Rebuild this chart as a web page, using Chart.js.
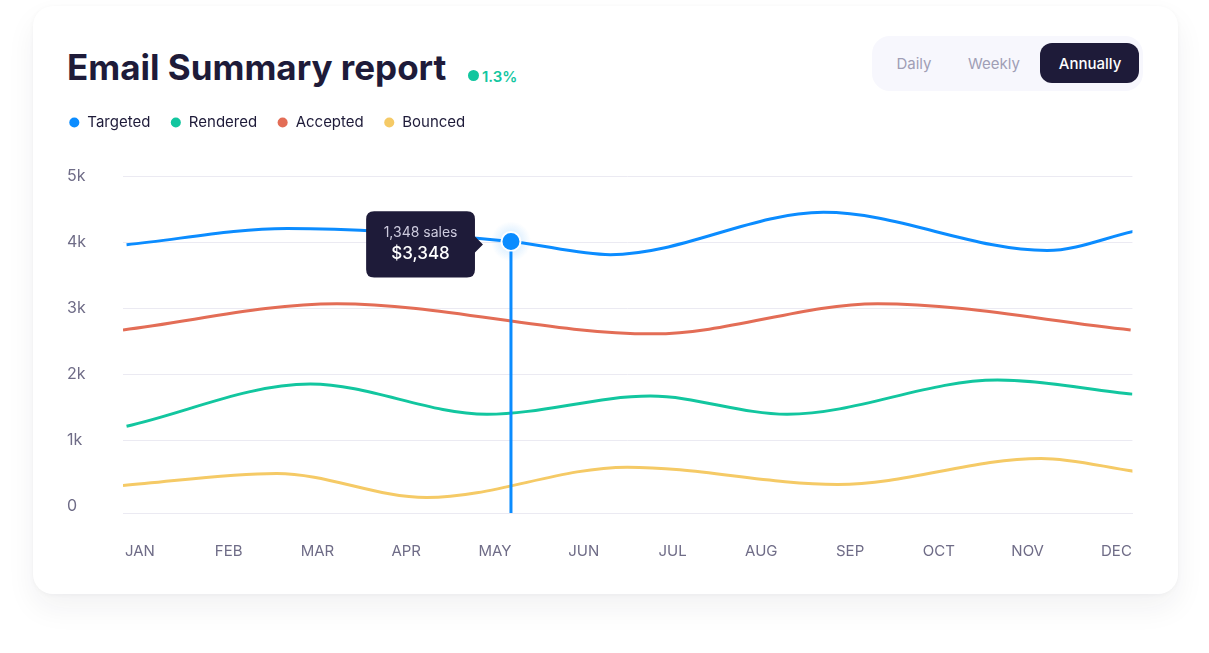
<!DOCTYPE html>
<html>
<head>
<meta charset="utf-8">
<script src="https://cdn.jsdelivr.net/npm/chart.js@4.4.1/dist/chart.umd.min.js"></script>
<style>
html,body{margin:0;padding:0;background:#fff;width:1209px;height:653px;overflow:hidden;font-family:Inter,sans-serif;}
.card{position:absolute;left:33px;top:6px;width:1145px;height:588px;background:#fff;border-radius:20px;box-shadow:0 14px 30px rgba(30,27,57,0.06),0 1px 5px rgba(30,27,57,0.04);}
.title{position:absolute;left:67px;top:50px;font-size:35px;line-height:35px;font-weight:700;color:#1e1b39;white-space:nowrap;}
.badge-dot{position:absolute;left:467.5px;top:70px;width:11px;height:11px;border-radius:50%;background:#12c69f;}
.badge{position:absolute;left:482px;top:69px;font-size:15px;line-height:15px;font-weight:600;color:#12c69f;white-space:nowrap;}
.seg{position:absolute;left:872px;top:36px;width:271px;height:55px;border-radius:18px;background:#f7f7fd;}
.seg-active{position:absolute;left:1040px;top:43px;width:99px;height:40px;border-radius:12px;background:#1e1b39;}
.seg-btn{position:absolute;top:56px;font-size:15px;line-height:15px;color:#a09eb5;transform:translateX(-50%);white-space:nowrap;}
.seg-btn.on{color:#fff;font-weight:500;}
#wrap{position:absolute;left:40px;top:88px;width:1121px;height:501px;}
</style>
</head>
<body>
<div class="card"></div>
<div class="title">Email Summary report</div>
<div class="badge-dot"></div>
<div class="badge">1.3%</div>
<div class="seg"></div>
<div class="seg-active"></div>
<div class="seg-btn" style="left:914px">Daily</div>
<div class="seg-btn" style="left:994px">Weekly</div>
<div class="seg-btn on" style="left:1090px">Annually</div>
<div id="wrap"><canvas id="c"></canvas></div>
<script>
// ---- data ----
const months = ['JAN','FEB','MAR','APR','MAY','JUN','JUL','AUG','SEP','OCT','NOV','DEC'];
const yTickValues = [0, 1000, 2000, 3000, 4000, 5000];

const targetedX = [-0.15, 1.66, 4.18, 5.30, 7.70, 10.22, 11.19];
const targetedY = [3960, 4205, 4010, 3810, 4450, 3872, 4161];

const renderedX = [-0.15, 1.92, 3.91, 5.75, 7.29, 9.66, 11.18];
const renderedY = [1213, 1851, 1395, 1669, 1395, 1912, 1699];

const acceptedX = [-0.19, 2.22, 5.78, 8.31, 11.16];
const acceptedY = [2671, 3067, 2611, 3067, 2671];

const bouncedX = [-0.19, 1.54, 3.23, 5.49, 7.86, 10.15, 11.21];
const bouncedY = [316, 498, 134, 594, 331, 726, 529];

const seriesNames = ['Targeted', 'Rendered', 'Accepted', 'Bounced'];
const focusIndex = 2;          // highlighted Targeted point
const tooltipSales = 1348;
const tooltipRevenue = 3348;

// ---- styles ----
const colors = ['#0b8cff', '#12c69f', '#e36d56', '#f5ca66'];
const gridColor = '#ebeaf2';
const tickColor = '#6f6c87';
const ink = '#1e1b39';

const toPoints = (xs, ys) => xs.map((x, i) => ({x, y: ys[i]}));
const fmt = n => n.toLocaleString('en-US');

Chart.defaults.font.family = 'Inter';

Chart.Tooltip.positioners.focusPoint = function (elements) {
  if (!elements.length) return false;
  const p = elements[0].element;
  return {x: p.x, y: p.y + 3};
};

const legendSpace = {
  id: 'legendSpace',
  beforeUpdate(chart) {
    const lg = chart.legend;
    if (lg && !lg._wrappedFit) {
      const fit = lg.fit;
      lg.fit = function () { fit.call(this); this.height += 36; };
      lg._wrappedFit = true;
    }
  },
  afterLayout(chart) {
    chart.legend.left -= 18.2;
    chart.legend.right -= 18.2;
  }
};

const focusLine = {
  id: 'focusLine',
  beforeDatasetsDraw(chart) {
    const act = chart.getActiveElements();
    if (!act.length) return;
    const el = act[0].element;
    const ctx = chart.ctx;
    ctx.save();
    const g = ctx.createRadialGradient(el.x, el.y, 6, el.x, el.y, 20);
    g.addColorStop(0, 'rgba(11,140,255,0.16)');
    g.addColorStop(1, 'rgba(11,140,255,0)');
    ctx.fillStyle = g;
    ctx.beginPath(); ctx.arc(el.x, el.y, 20, 0, Math.PI * 2); ctx.fill();
    ctx.restore();
  },
  afterDatasetsDraw(chart) {
    const act = chart.getActiveElements();
    if (!act.length) return;
    const el = act[0].element;
    const {ctx, chartArea} = chart;
    ctx.save();
    ctx.strokeStyle = colors[0];
    ctx.lineWidth = 3;
    ctx.beginPath();
    ctx.moveTo(el.x, el.y + 10);
    ctx.lineTo(el.x, chartArea.bottom);
    ctx.stroke();
    ctx.restore();
  }
};

const seriesData = [
  toPoints(targetedX, targetedY),
  toPoints(renderedX, renderedY),
  toPoints(acceptedX, acceptedY),
  toPoints(bouncedX, bouncedY)
];

const datasets = seriesNames.map((name, i) => ({
  label: name,
  data: seriesData[i],
  borderColor: colors[i],
  backgroundColor: colors[i],
  borderWidth: 3,
  fill: false,
  cubicInterpolationMode: 'monotone',
  pointRadius: 0,
  pointHoverRadius: i === 0 ? 9.5 : 0,
  pointHoverBorderWidth: 2,
  pointHoverBorderColor: '#ffffff',
  pointHoverBackgroundColor: colors[i],
  pointStyle: 'circle'
}));

const chart = new Chart(document.getElementById('c'), {
  type: 'line',
  data: {datasets},
  plugins: [legendSpace, focusLine],
  options: {
    responsive: true,
    maintainAspectRatio: false,
    animation: false,
    events: [],
    layout: {padding: {left: 27, right: 10, top: 7, bottom: 0}},
    plugins: {
      legend: {
        position: 'top',
        align: 'start',
        labels: {
          usePointStyle: true,
          boxWidth: 11,
          boxHeight: 7.1,
          padding: 20,
          color: ink,
          font: {size: 15, weight: '400'},
          generateLabels(c) {
            const items = Chart.defaults.plugins.legend.labels.generateLabels(c);
            items.forEach(it => { it.lineWidth = 0; it.fillStyle = it.strokeStyle; });
            return items;
          }
        }
      },
      tooltip: {
        enabled: true,
        position: 'focusPoint',
        xAlign: 'right',
        yAlign: 'center',
        backgroundColor: ink,
        cornerRadius: 8,
        caretSize: 8,
        caretPadding: 28,
        padding: {top: 13, bottom: 13, left: 17.5, right: 17.5},
        displayColors: false,
        titleAlign: 'center',
        bodyAlign: 'center',
        titleColor: '#cdcbde',
        bodyColor: '#ffffff',
        titleFont: {size: 14, weight: '400'},
        bodyFont: {size: 17, weight: '500'},
        titleMarginBottom: 3,
        callbacks: {
          title: () => fmt(tooltipSales) + ' sales',
          label: () => '$' + fmt(tooltipRevenue)
        }
      }
    },
    scales: {
      x: {
        type: 'linear',
        min: -0.19,
        max: 11.18,
        afterBuildTicks(scale) { scale.ticks = months.map((m, i) => ({value: i})); },
        grid: {display: false, drawTicks: false},
        border: {display: true, color: gridColor, width: 1},
        ticks: {
          autoSkip: false,
          maxRotation: 0,
          padding: 29,
          color: tickColor,
          font: {size: 15},
          callback: v => months[v] ?? ''
        }
      },
      y: {
        min: -100,
        max: 5000,
        afterBuildTicks(scale) { scale.ticks = yTickValues.map(v => ({value: v})); },
        afterFit(scale) { scale.width = 56; },
        grid: {
          color: c => (c.tick && c.tick.value === 0) ? 'rgba(0,0,0,0)' : gridColor,
          lineWidth: 1,
          drawTicks: false
        },
        border: {display: false},
        ticks: {
          crossAlign: 'far',
          color: tickColor,
          font: {size: 16},
          callback: v => v === 0 ? '0' : (v / 1000) + 'k'
        }
      }
    }
  }
});

const act = [{datasetIndex: 0, index: focusIndex}];
chart.setActiveElements(act);
chart.tooltip.setActiveElements(act, {x: 0, y: 0});
chart.update();
</script>
</body>
</html>
